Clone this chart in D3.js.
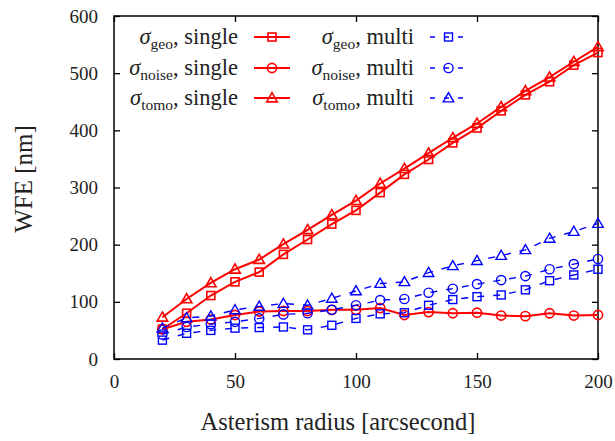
<!DOCTYPE html>
<html><head><meta charset="utf-8">
<script src="https://cdn.jsdelivr.net/npm/d3@7"></script>
<style>body{margin:0;background:#fff}svg{display:block}text{font-family:"Liberation Serif",serif;fill:#222}</style>
</head><body><svg id="c" width="615" height="441"></svg>
<script>
const radius = [20,30,40,50,60,70,80,90,100,110,120,130,140,150,160,170,180,190,200];
const geoSingle   = [52,80,111,135,152,183,209,236,260,291,323,349,378,404,434,462,485,514,536];
const noiseSingle = [52,65,69,77,83,84,84,86,86,89,77,82,80,81,76,75,80,76,77];
const tomoSingle  = [73,105,133,157,174,201,226,252,277,307,333,360,387,412,441,469,493,520,546];
const geoMulti    = [33,45,50,54,55,56,51,59,71,79,81,94,104,109,112,121,137,147,157];
const noiseMulti  = [43,56,61,65,71,78,80,86,94,103,105,116,123,131,138,145,157,166,175];
const tomoMulti   = [54,72,75,86,92,97,94,106,119,132,135,151,163,172,181,191,211,223,237];
const xTicks = [0,50,100,150,200];
const yTicks = [0,100,200,300,400,500,600];
const seriesDefs = [
  {name:"geo", kind:"single", values:geoSingle, shape:"square"},
  {name:"noise", kind:"single", values:noiseSingle, shape:"circle"},
  {name:"tomo", kind:"single", values:tomoSingle, shape:"triangle"},
  {name:"geo", kind:"multi", values:geoMulti, shape:"square"},
  {name:"noise", kind:"multi", values:noiseMulti, shape:"circle"},
  {name:"tomo", kind:"multi", values:tomoMulti, shape:"triangle"}
];

const svg = d3.select("#c");
const L=114, R=598, T=16, B=359;
const x = d3.scaleLinear().domain([0,200]).range([L,R]);
const y = d3.scaleLinear().domain([0,600]).range([B,T]);

function style(kind){
  return kind==="single" ? {color:"#ff0000", lw:2, dash:null, mw:1.6}
                         : {color:"#0000ff", lw:1.4, dash:"7,9", mw:1.4};
}
function marker(g, shape, cx, cy, st){
  if(shape==="square"){
    g.append("rect").attr("x",cx-4).attr("y",cy-4).attr("width",8).attr("height",8)
     .attr("fill","none").attr("stroke",st.color).attr("stroke-width",st.mw);
  } else if(shape==="circle"){
    g.append("circle").attr("cx",cx).attr("cy",cy).attr("r",4.6)
     .attr("fill","none").attr("stroke",st.color).attr("stroke-width",st.mw);
  } else {
    const p = d3.symbol().type(d3.symbolTriangle).size(48)();
    g.append("path").attr("d",p).attr("transform",`translate(${cx},${cy+0.8})`)
     .attr("fill","none").attr("stroke",st.color).attr("stroke-width",st.mw);
  }
}

// axes (inside ticks, mirrored)
const gx = svg.append("g").attr("transform",`translate(0,${B})`)
  .call(d3.axisBottom(x).tickValues(xTicks).tickSize(-6).tickPadding(16));
const gxt = svg.append("g").attr("transform",`translate(0,${T})`)
  .call(d3.axisTop(x).tickValues(xTicks).tickSize(-6).tickFormat(""));
const gy = svg.append("g").attr("transform",`translate(${L},0)`)
  .call(d3.axisLeft(y).tickValues(yTicks).tickSize(-6).tickPadding(16));
const gyr = svg.append("g").attr("transform",`translate(${R},0)`)
  .call(d3.axisRight(y).tickValues(yTicks).tickSize(-6).tickFormat(""));
[gx,gxt,gy,gyr].forEach(g=>{
  g.attr("font-family","Liberation Serif").attr("font-size",19);
  g.select(".domain").remove();
  g.selectAll(".tick line").attr("stroke","#000").attr("stroke-width",1.3);
  g.selectAll("text").style("font-family","'Liberation Serif', serif").style("font-size","19px").attr("fill","#222");
});
gx.selectAll("text").attr("dy","0.71em");
svg.append("rect").attr("x",L).attr("y",T).attr("width",R-L).attr("height",B-T)
  .attr("fill","none").attr("stroke","#000").attr("stroke-width",1.5);

// data
const line = d3.line().x((d,i)=>x(radius[i])).y(d=>y(d));
seriesDefs.forEach(s=>{
  const st = style(s.kind);
  const g = svg.append("g");
  g.append("path").attr("d",line(s.values)).attr("fill","none")
   .attr("stroke",st.color).attr("stroke-width",st.lw)
   .attr("stroke-dasharray",st.dash);
  s.values.forEach((v,i)=>marker(g,s.shape,x(radius[i]),y(v),st));
});

// legend
const rowsY = [37,68,98];
seriesDefs.forEach((s,k)=>{
  const st = style(s.kind);
  const col = s.kind==="single" ? 0 : 1;
  const row = k%3;
  const tx = col===0 ? 238 : 414;
  const sx0 = col===0 ? 254 : 430, sx1 = col===0 ? 290 : 467;
  const cy = rowsY[row];
  const t = svg.append("text").attr("x",tx).attr("y",cy+6.5).attr("text-anchor","end")
    .style("font-size","22.5px");
  t.append("tspan").attr("font-style","italic").text("σ");
  t.append("tspan").attr("dy",5).style("font-size","15.5px").text(s.name);
  t.append("tspan").attr("dy",-5).text(", "+s.kind);
  const g = svg.append("g");
  g.append("line").attr("x1",sx0).attr("x2",sx1).attr("y1",cy).attr("y2",cy)
    .attr("stroke",st.color).attr("stroke-width",st.lw).attr("stroke-dasharray",st.dash ? "5,9" : null);
  marker(g,s.shape,(sx0+sx1)/2,cy,st);
});

// axis titles
svg.append("text").attr("x",338).attr("y",430).attr("text-anchor","middle")
  .style("font-size","24.5px").text("Asterism radius [arcsecond]");
svg.append("text").attr("transform","translate(32,179) rotate(-90)").attr("text-anchor","middle")
  .style("font-size","25px").text("WFE [nm]");
</script></body></html>
